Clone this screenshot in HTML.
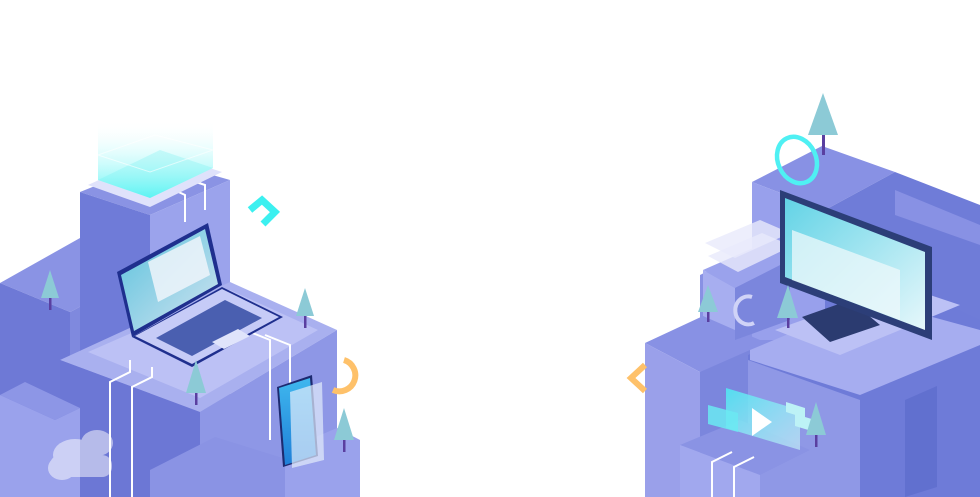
<!DOCTYPE html>
<html><head><meta charset="utf-8"><style>
html,body{margin:0;padding:0;background:#fff;}
svg{display:block}
</style></head><body>
<svg width="980" height="497" viewBox="0 0 980 497" xmlns="http://www.w3.org/2000/svg">
<defs>
<linearGradient id="glow" x1="0" y1="0" x2="0" y2="1">
<stop offset="0" stop-color="#ffffff" stop-opacity="0"/>
<stop offset="1" stop-color="#4ff3f3"/>
</linearGradient>
<linearGradient id="scr" x1="0" y1="0" x2="1" y2="1">
<stop offset="0" stop-color="#62d3e6"/>
<stop offset="1" stop-color="#e6f7fb"/>
</linearGradient>
<linearGradient id="tab" x1="0" y1="0" x2="0" y2="1">
<stop offset="0" stop-color="#3fb7ee"/>
<stop offset="1" stop-color="#1f7fd8"/>
</linearGradient>
<linearGradient id="vid" x1="0" y1="0" x2="1" y2="1">
<stop offset="0" stop-color="#4fe6f2"/>
<stop offset="1" stop-color="#c9f3f8" stop-opacity="0.7"/>
</linearGradient>
</defs>

<!-- ========== LEFT GROUP ========== -->
<polygon points="0,283 80,238 150,270 70,312" fill="#8a93e4"/>
<polygon points="0,283 70,312 70,497 0,497" fill="#6e79d6"/>
<polygon points="70,312 150,270 150,497 70,497" fill="#7f89de"/>
<polygon points="80,192 160,160 230,180 150,215" fill="#8a93e4"/>
<polygon points="80,192 150,215 150,497 80,497" fill="#6f7bd8"/>
<polygon points="150,215 230,180 230,497 150,497" fill="#9ba3ec"/>
<polygon points="60,360 230,282 337,330 200,412" fill="#a9b0ef"/>
<polygon points="88,352 230,290 318,330 200,398" fill="#bcc1f5"/>
<polygon points="60,360 200,412 200,497 60,497" fill="#6c77d5"/>
<polygon points="200,412 337,330 337,497 200,497" fill="#8e97e6"/>
<polygon points="0,395 25,382 80,408 55,420" fill="#8d96e6"/>
<polygon points="0,395 55,420 80,408 80,497 0,497" fill="#9aa2ec"/>
<polygon points="150,470 215,437 360,482 360,497 150,497" fill="#8a93e4"/>
<polygon points="285,450 337,428 360,440 360,497 285,497" fill="#9aa2ec"/>
<g fill="#ffffff" opacity="0.5">
<ellipse cx="75" cy="455" rx="22" ry="16"/>
<ellipse cx="97" cy="443" rx="16" ry="13"/>
<ellipse cx="62" cy="468" rx="14" ry="12"/>
<rect x="50" y="455" width="62" height="22" rx="10"/>
</g>
<g stroke="#ffffff" stroke-width="2" fill="none">
<polyline points="110,497 110,382 130,372 130,360"/>
<polyline points="132,497 132,387 152,377 152,367"/>
<polyline points="270,440 270,340 245,330"/>
<polyline points="290,420 290,345 265,335"/>
<polyline points="185,222 185,195 170,188"/>
<polyline points="205,210 205,185 190,180"/>
</g>
<polygon points="88,185 150,207 222,172 160,152" fill="#dfe2fb"/>
<polygon points="98,180 150,198 213,168 160,150" fill="#c9f8f8"/>
<polygon points="98,120 213,120 213,168 150,198 98,180" fill="url(#glow)" opacity="0.9"/>
<polygon points="98,155 155,135 213,150 150,172" fill="none" stroke="#ffffff" stroke-opacity="0.6"/>
<!-- laptop -->
<polygon points="132,337 222,287 283,317 192,367" fill="#1f2f8e"/>
<polygon points="135,336 222,289 279,317 192,364" fill="#c6cbf7"/>
<polygon points="156,338 225,300 262,318 192,356" fill="#4a5fb0"/>
<polygon points="212,342 238,329 250,336 224,349" fill="#e0e4fb"/>
<polygon points="117,272 208,223 222,285 132,337" fill="#1f2f8e"/>
<polygon points="121,275 205,229 218,284 134,331" fill="url(#scr)" opacity="0.9"/>
<polygon points="148,262 200,236 210,275 158,302" fill="#eef4fa" opacity="0.85"/>
<!-- tablet -->
<polygon points="277,387 312,375 318,456 283,467" fill="#1d2a70"/>
<polygon points="279,388 310,378 316,455 285,465" fill="url(#tab)"/>
<polygon points="290,392 322,382 324,460 292,468" fill="#e3ecfb" opacity="0.7"/>
<path d="M344,360 A16,16 0 1 1 333,390" fill="none" stroke="#fec16a" stroke-width="6"/>
<polyline points="250,210 262,200 275,212 263,224" fill="none" stroke="#3cf0f0" stroke-width="7"/>
<g>
<polygon points="50,270 41,298 59,298" fill="#8ccad6"/><rect x="49" y="298" width="2.5" height="12" fill="#5a3fa0"/>
<polygon points="305,288 296,316 314,316" fill="#8ccad6"/><rect x="304" y="316" width="2.5" height="12" fill="#5a3fa0"/>
<polygon points="196,360 186,393 206,393" fill="#8ccad6"/><rect x="195" y="393" width="2.5" height="12" fill="#5a3fa0"/>
<polygon points="344,408 334,440 354,440" fill="#8ccad6"/><rect x="343" y="440" width="2.5" height="12" fill="#5a3fa0"/>
</g>

<!-- ========== RIGHT GROUP ========== -->
<!-- filler behind -->
<polygon points="700,275 760,245 825,250 825,360 700,372" fill="#8891e4"/>
<polygon points="752,182 822,146 895,172 825,210" fill="#8891e4"/>
<polygon points="752,182 825,210 825,340 752,340" fill="#98a0ec"/>
<polygon points="825,210 895,172 980,205 980,340 825,340" fill="#6f7cd8"/>
<polygon points="895,190 980,225 980,245 895,215" fill="#8891e4"/>
<polygon points="645,343 703,316 760,340 700,372" fill="#8891e4"/>
<polygon points="703,270 760,245 790,260 735,288" fill="#9aa2ec"/>
<polygon points="703,270 735,288 735,330 703,316" fill="#a7aef0"/>
<polygon points="735,288 790,260 790,320 735,340" fill="#7b86dd"/>
<polygon points="645,343 700,372 700,497 645,497" fill="#9aa0ea"/>
<polygon points="700,372 750,350 750,497 700,497" fill="#7b86dd"/>
<polygon points="748,355 905,285 980,320 980,497 748,497" fill="#6e7bd8"/>
<polygon points="750,350 870,300 980,330 980,345 860,395 750,360" fill="#a6adf0"/>
<polygon points="775,330 900,285 960,305 840,355" fill="#bcc1f5"/>
<polygon points="748,360 860,400 860,497 748,497" fill="#8f98e6"/>
<polygon points="905,400 937,386 937,487 905,497" fill="#6170cf"/>
<polygon points="680,445 740,420 810,450 760,475" fill="#8a93e4"/>
<polygon points="680,445 760,475 760,497 680,497" fill="#a1a8ee"/>
<polygon points="705,243 760,220 790,233 735,258" fill="#e8eafb" opacity="0.8"/>
<polygon points="708,256 762,233 792,246 738,272" fill="#e8eafb" opacity="0.8"/>
<path d="M752,297 A13,14 0 1 0 754,323" fill="none" stroke="#d0d3f7" stroke-width="4"/>
<polygon points="802,317 850,300 880,325 830,342" fill="#2b3b70"/>
<polygon points="780,190 932,247 932,340 780,283" fill="#2c3e78"/>
<polygon points="785,198 925,252 925,330 785,277" fill="url(#scr)"/>
<polygon points="792,230 900,270 900,320 792,280" fill="#eef8fb" opacity="0.75"/>
<ellipse cx="797" cy="160" rx="19" ry="24" transform="rotate(-25 797 160)" fill="none" stroke="#4ff0f3" stroke-width="4.5"/>
<polyline points="645,365 631,378 645,391" fill="none" stroke="#fec16a" stroke-width="6"/>
<polygon points="726,388 800,410 800,450 726,428" fill="url(#vid)" opacity="0.9"/>
<polygon points="708,405 738,413 738,432 708,424" fill="#6be9f2" opacity="0.85"/>
<polygon points="752,408 772,422 752,436" fill="#ffffff"/>
<polygon points="786,402 805,408 805,418 786,412" fill="#bdf2f6"/>
<polygon points="795,414 815,420 815,432 795,426" fill="#bdf2f6"/>
<g stroke="#ffffff" stroke-width="2" fill="none">
<polyline points="712,497 712,462 732,452"/>
<polyline points="734,497 734,467 754,457"/>
</g>
<g>
<polygon points="823,93 808,135 838,135" fill="#8ccad6"/><rect x="822" y="135" width="3" height="20" fill="#5a3fa0"/>
<polygon points="708,285 698,312 718,312" fill="#8ccad6"/><rect x="707" y="312" width="2.5" height="10" fill="#5a3fa0"/>
<polygon points="788,285 777,318 798,318" fill="#8ccad6"/><rect x="787" y="318" width="2.5" height="10" fill="#5a3fa0"/>
<polygon points="816,402 806,435 826,435" fill="#8ccad6"/><rect x="815" y="435" width="2.5" height="12" fill="#5a3fa0"/>
</g>
</svg>
</body></html>
